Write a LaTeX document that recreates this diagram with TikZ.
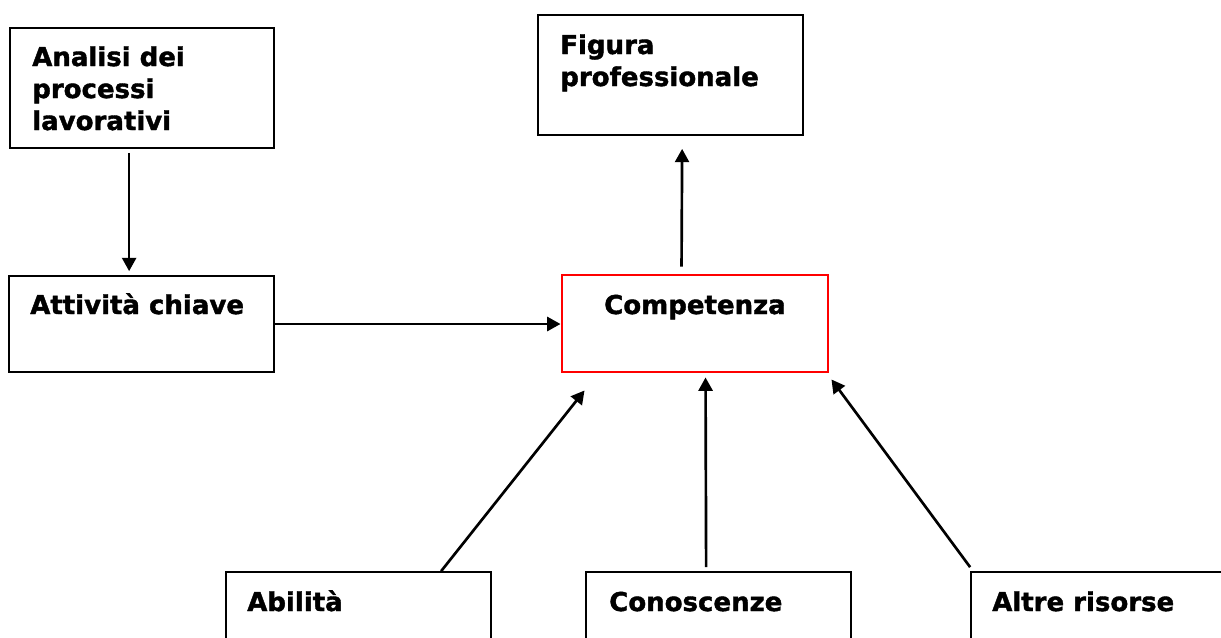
\documentclass[tikz,border=0pt]{standalone}
\usepackage{fontspec}
\setmainfont{DejaVu Sans}
\newfontfamily\vb{DejaVu Sans}[BoldFeatures={FakeBold=1.5}]
\usetikzlibrary{arrows.meta,calc,fit}
\begin{document}
\begin{tikzpicture}[x=0.75pt,y=-0.75pt,
  box/.style={draw=black,line width=1.3pt,inner sep=0pt,rectangle},
  redbox/.style={draw=red,line width=2.2pt,inner sep=0pt,rectangle},
  txt/.style={inner sep=0pt,anchor=base west,font=\vb\fontsize{19.5}{24}\selectfont\bfseries},
  conn/.style={line width=2pt,-{Triangle[length=10pt,width=10.5pt]}}]
\useasboundingbox (0,0) rectangle (1221,637);
\clip (0,0) rectangle (1221,637);
% boxes
\node[box,fit={(10,28)(274,148)}] (ana) {};
\node[box,fit={(538,15)(803,135)}] (fig) {};
\node[box,fit={(9,276)(274,372)}] (att) {};
\node[redbox,fit={(562,275)(828,372)}] (comp) {};
\node[box,fit={(226,572)(491,700)}] (abil) {};
\node[box,fit={(586,572)(851,700)}] (cono) {};
\node[box,fit={(971,572)(1240,700)}] (altre) {};
% texts
\node[txt] (ana1) at (32,66) {Analisi dei};
\node[txt] (ana2) at (32,98) {processi};
\node[txt] (ana3) at (32,130) {lavorativi};
\node[txt] (fig1) at (560,54) {Figura};
\node[txt] (fig2) at (560,86) {professionale};
\node[txt] (att1) at (30,314) {Attività chiave};
\node[txt,anchor=base] (comp1) at (695,314) {Competenza};
\node[txt] (abil1) at (247,611) {Abilità};
\node[txt] (cono1) at (609,611) {Conoscenze};
\node[txt] (altre1) at (992,611) {Altre risorse};
% connectors
\draw[conn] ($(ana.south west)+(120,4)$) -- ($(att.north west)+(121,-4)$);
\draw[conn] (att.east) -- (att.east -| comp.west);
\draw[conn] ($(comp.north west)+(121,-7)$) -- ($(fig.south west)+(145,13)$);
\draw[conn] ($(abil.north west)+(216,0)$) -- ($(comp.south west)+(24,17)$);
\draw[conn] ($(cono.north west)+(121,-4)$) -- ($(comp.south west)+(145,4)$);
\draw[conn] ($(altre.north west)+(0,-4)$) -- ($(comp.south east)+(2,6)$);
\end{tikzpicture}
\end{document}
